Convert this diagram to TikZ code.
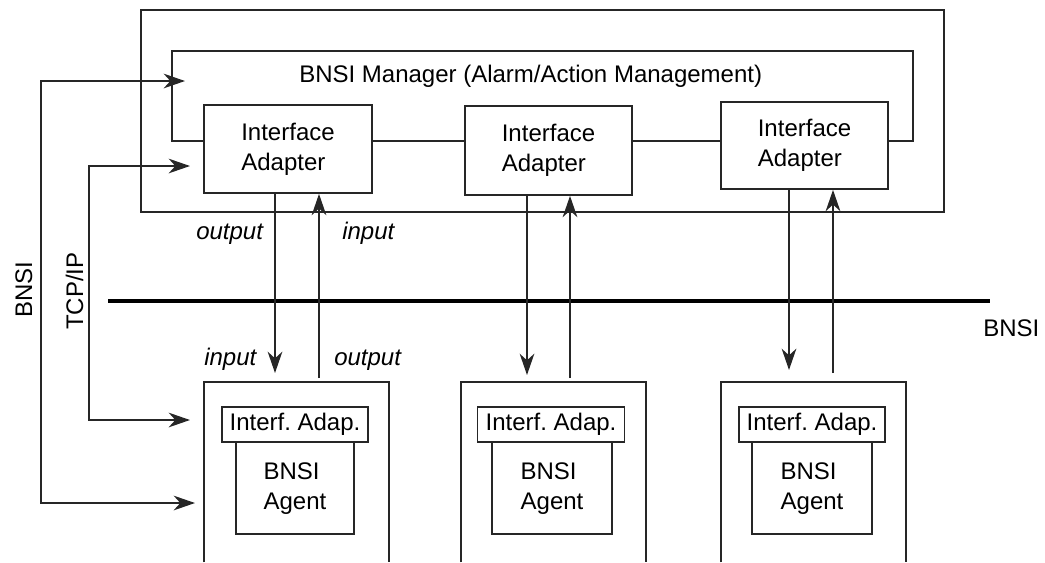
\documentclass[tikz,border=0pt]{standalone}
\usepackage{fontspec}
\setmainfont{Liberation Sans}
\usetikzlibrary{arrows.meta,fit,calc}
\frenchspacing
\newcommand{\twolines}[2]{\begin{tabular}{@{}l@{}}#1\\#2\end{tabular}}
\begin{document}
\begin{tikzpicture}[x=0.75pt,y=-0.75pt,
  line/.style={draw=black!85, line width=1.3pt},
  box/.style={draw=black!85, line width=1.3pt, inner sep=0pt},
  sz/.style 2 args={minimum width=#1*0.75pt, minimum height=#2*0.75pt},
  frame/.style={inner sep=0pt},
  txt/.style={font=\fontsize{18}{22.5}\selectfont, inner sep=0pt},
  io/.style={font=\fontsize{18}{22.5}\selectfont\itshape, inner sep=0pt},
  tip/.style={-{Stealth[length=16pt,width=11pt,inset=5pt]}},
  tips/.style={{Stealth[length=16pt,width=11pt,inset=5pt]}-{Stealth[length=16pt,width=11pt,inset=5pt]}},
]
\useasboundingbox (0,0) rectangle (1045,562);

% manager enclosure
\node[box, fit={(141,10) (944,212)}] (outer) {};
\node[txt, anchor=base west] (mgrlabel) at (299,82) {BNSI Manager (Alarm/Action Management)};

% interface adapters of the manager
\node[box, txt, sz={168}{88}] (ia1) at (288,149)   {\twolines{Interface}{Adapter}};
\node[box, txt, sz={167}{89}] (ia2) at (548.5,150.5) {\twolines{Interface}{Adapter}};
\node[box, txt, sz={167}{87}] (ia3) at (804.5,145.5) {\twolines{Interface}{Adapter}};

% manager ring joining the adapters
\coordinate (ring) at (0,141);
\draw[line] (ia1.west |- ring) -| (172,51) -| (913,141) -- (ia3.east |- ring);
\draw[line] (ia1.east |- ring) -- (ia2.west |- ring);
\draw[line] (ia2.east |- ring) -- (ia3.west |- ring);

% BNSI bus
\coordinate (busL) at (108,301);
\coordinate (busR) at (990,301);
\draw[draw=black, line width=3pt] (busL) -- (busR);
\node[txt, anchor=base west] (buslabel) at (983,336) {BNSI};

% agent hosts (open at the bottom)
\node[frame, fit={(204,382) (389,562)}] (h1) {};
\node[frame, fit={(461,382) (646,562)}] (h2) {};
\node[frame, fit={(721,382) (906,562)}] (h3) {};
\foreach \h in {h1,h2,h3}
  \draw[line] (\h.south west) |- (\h.north east) -- (\h.south east);

% agent interface adapters and agents
\node[box, txt, sz={146}{35}] (ifa1) at (295,424.5) {Interf. Adap.};
\node[box, txt, sz={147}{35}] (ifa2) at (551,424.5) {Interf. Adap.};
\node[box, txt, sz={146}{35}] (ifa3) at (812,424.5) {Interf. Adap.};
\node[box, txt, sz={118}{92}] (ag1) at (295,488) {\twolines{BNSI}{Agent}};
\node[box, txt, sz={120}{92}] (ag2) at (552,488) {\twolines{BNSI}{Agent}};
\node[box, txt, sz={120}{92}] (ag3) at (812,488) {\twolines{BNSI}{Agent}};

% manager <-> agent traffic
\coordinate (in1) at (275,373);  \coordinate (out1) at (319,378);
\coordinate (in2) at (527,375);  \coordinate (out2) at (570,378);
\coordinate (in3) at (789,370);  \coordinate (out3) at (833,373);
\draw[line, tip] (in1 |- ia1.south) -- (in1);
\draw[line, tip] (out1) -- (out1 |- ia1.south);
\draw[line, tip] (in2 |- ia2.south) -- (in2);
\draw[line, tip] (out2) -- (out2 |- ia2.south);
\draw[line, tip] (in3 |- ia3.south) -- (in3);
\draw[line, tip] (out3) -- (out3 |- ia3.south);

\node[io, anchor=base west] (lo1) at (196,239) {output};
\node[io, anchor=base west] (li1) at (342,239) {input};
\node[io, anchor=base west] (li2) at (204,365) {input};
\node[io, anchor=base west] (lo2) at (334,365) {output};

% side links: BNSI and TCP/IP
\coordinate (bnsiA) at (185,81);
\coordinate (bnsiB) at (195,503);
\coordinate (tcpA) at (190,166);
\coordinate (tcpB) at (190,420);
\draw[line, tips] (bnsiA) -- (41,81) -- (41,503) -- (bnsiB);
\draw[line, tips] (tcpA) -- (89,166) -- (89,420) -- (tcpB);
\node[txt, rotate=90, anchor=base west] (bnsilabel) at (32,318) {BNSI};
\node[txt, rotate=90, anchor=base west] (tcplabel) at (83,330) {TCP/IP};
\end{tikzpicture}
\end{document}
